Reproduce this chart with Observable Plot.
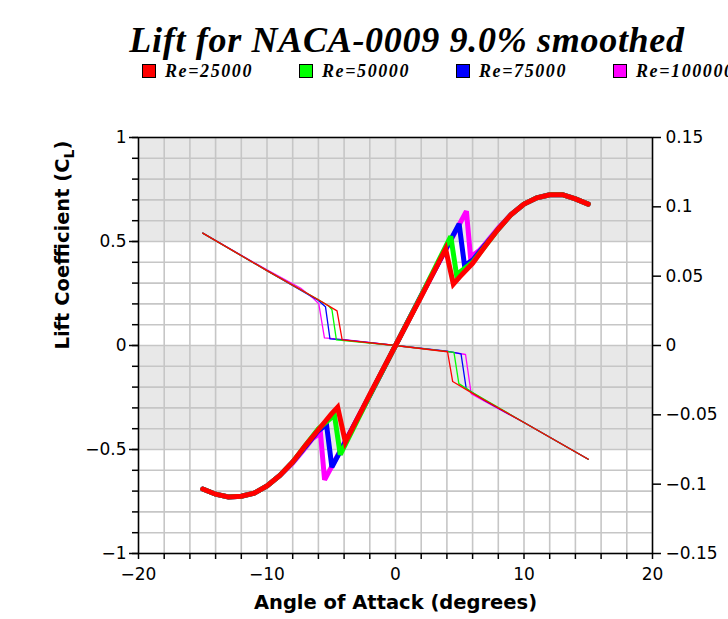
<!DOCTYPE html>
<html><head><meta charset="utf-8">
<script src="https://cdn.jsdelivr.net/npm/d3@7"></script>
<script src="https://cdn.jsdelivr.net/npm/@observablehq/plot@0.6"></script>
<style>
body{margin:0;background:#fff;}
#wrap{position:relative;width:728px;height:619px;overflow:hidden;background:#fff;}
#title{position:absolute;left:0;top:18px;width:814px;text-align:center;font:italic bold 36px "Liberation Serif",serif;letter-spacing:0.7px;white-space:nowrap;color:#000;line-height:44px;}
.leg{position:absolute;top:62px;white-space:nowrap;font:italic bold 18px "Liberation Serif",serif;letter-spacing:1.6px;line-height:18px;color:#000;}
.sw{display:inline-block;width:12px;height:12px;border:1px solid #000;margin-right:9px;vertical-align:-1px;}
#chart{position:absolute;left:0;top:80px;}
</style></head>
<body>
<div id="wrap">
  <div id="title">Lift for NACA-0009 9.0% smoothed</div>
  <div id="legend"></div>
  <div id="chart"></div>
</div>
<script>
// ---- data ----
const seriesNames = ["Re=25000", "Re=50000", "Re=75000", "Re=100000"];
const seriesColors = ["#ff0000", "#00ff00", "#0000ff", "#ff00ff"];

// Lift coefficient (left axis) : [alpha, CL]
const cl25000 = [[-15,-0.69],[-14,-0.715],[-13,-0.728],[-12,-0.725],[-11,-0.71],[-10,-0.675],[-9,-0.625],[-8,-0.56],[-7,-0.48],[-6,-0.405],[-5,-0.33],[-4.5,-0.297],[-3.9,-0.465],[-2,-0.235],[0,0],[2,0.235],[3.9,0.465],[4.5,0.295],[5,0.33],[6,0.395],[7,0.48],[8,0.56],[9,0.63],[10,0.68],[11,0.71],[12,0.725],[13,0.725],[14,0.705],[15,0.68]];
const cl50000 = [[-15,-0.69],[-14,-0.715],[-13,-0.728],[-12,-0.725],[-11,-0.71],[-10,-0.675],[-9,-0.625],[-8,-0.56],[-7,-0.48],[-6,-0.40],[-4.75,-0.335],[-4.3,-0.525],[-2,-0.24],[0,0],[2,0.24],[4.3,0.525],[4.75,0.34],[6,0.40],[7,0.48],[8,0.56],[9,0.63],[10,0.68],[11,0.71],[12,0.725],[13,0.725],[14,0.705],[15,0.68]];
const cl75000 = [[-15,-0.69],[-14,-0.715],[-13,-0.728],[-12,-0.725],[-11,-0.71],[-10,-0.675],[-9,-0.625],[-8,-0.56],[-7,-0.485],[-6,-0.41],[-5.37,-0.38],[-4.95,-0.585],[-2,-0.24],[0,0],[2,0.24],[4.95,0.585],[5.37,0.385],[6,0.41],[7,0.485],[8,0.56],[9,0.63],[10,0.68],[11,0.71],[12,0.725],[13,0.725],[14,0.705],[15,0.68]];
const cl100000 = [[-15,-0.69],[-14,-0.715],[-13,-0.728],[-12,-0.725],[-11,-0.71],[-10,-0.675],[-9,-0.625],[-8,-0.565],[-7,-0.49],[-6.5,-0.45],[-5.84,-0.42],[-5.52,-0.646],[-2,-0.24],[0,0],[2,0.24],[5.52,0.646],[5.84,0.425],[6.5,0.455],[7,0.49],[8,0.565],[9,0.63],[10,0.68],[11,0.71],[12,0.725],[13,0.725],[14,0.705],[15,0.68]];

// thin curves (right axis units) : [alpha, value]
const cm25000 = [[-15,0.081],[-10,0.054],[-6,0.033],[-4.55,0.025],[-4.15,0.004],[0,0],[4.05,-0.0045],[4.45,-0.026],[6,-0.0345],[10,-0.0555],[15,-0.082]];
const cm50000 = [[-15,0.081],[-10,0.054],[-6,0.033],[-5.2,0.0285],[-4.95,0.026],[-4.6,0.004],[0,0],[4.55,-0.005],[4.93,-0.0275],[6,-0.034],[10,-0.0555],[15,-0.082]];
const cm75000 = [[-15,0.081],[-10,0.054],[-6,0.0325],[-5.45,0.028],[-5.1,0.0048],[-4,0.004],[0,0],[4,-0.004],[5.1,-0.006],[5.5,-0.031],[7,-0.040],[10,-0.0555],[15,-0.082]];
const cm100000 = [[-15,0.081],[-10,0.0545],[-7.4,0.0415],[-6.4,0.034],[-5.97,0.030],[-5.53,0.0055],[-4,0.0043],[0,0],[4,-0.0043],[5.45,-0.0065],[5.89,-0.0348],[7,-0.0405],[10,-0.0555],[15,-0.082]];

// axes
const xTickValues = [-20,-18,-16,-14,-12,-10,-8,-6,-4,-2,0,2,4,6,8,10,12,14,16,18,20];
const xTickLabels = {"-20":"−20","-10":"−10","0":"0","10":"10","20":"20"};
const yMajorValues = [-1,-0.5,0,0.5,1];
const yMajorLabels = ["−1","−0.5","0","0.5","1"];
const yMinorValues = [-1,-0.9,-0.8,-0.7,-0.6,-0.5,-0.4,-0.3,-0.2,-0.1,0,0.1,0.2,0.3,0.4,0.5,0.6,0.7,0.8,0.9,1];
const rightTickValues = [-0.15,-0.1,-0.05,0,0.05,0.1,0.15];
const rightTickLabels = ["−0.15","−0.1","−0.05","0","0.05","0.1","0.15"];
const rightMax = 0.15;
const shadedBands = [[0.5,1],[-0.5,0]];
const xLabel = "Angle of Attack (degrees)";
const yLabel = "Lift Coefficient (CL)";

// ---- legend ----
const legend = document.getElementById("legend");
seriesNames.forEach((n,i) => {
  const el = document.createElement("div");
  el.className = "leg";
  el.style.left = (142 + i*157) + "px";
  el.innerHTML = `<span class="sw" style="background:${seriesColors[i]}"></span>${n}`;
  legend.appendChild(el);
});

// ---- chart ----
const liftSeries = [cl100000, cl75000, cl50000, cl25000];
const thinSeries = [cm100000, cm75000, cm50000, cm25000];
const order = [3,2,1,0];
const grid = {stroke:"#c6c6c6", strokeOpacity:1, strokeWidth:1.6};
const font = "DejaVu Sans";

const plot = Plot.plot({
  width: 728, height: 539,
  marginLeft: 138, marginRight: 76, marginTop: 57, marginBottom: 66,
  x: {domain: [-20,20]},
  y: {domain: [-1,1]},
  style: {fontFamily: font, fontSize: "17px", color: "#000", background: "transparent"},
  marks: [
    Plot.rect(shadedBands, {x1: () => -20, x2: () => 20, y1: d => d[0], y2: d => d[1], fill: "#e8e8e8"}),
    Plot.gridX(xTickValues, grid),
    Plot.gridY(yMinorValues, grid),
    ...thinSeries.map((s,k) => Plot.line(s, {x: d => d[0], y: d => d[1]/rightMax, stroke: seriesColors[order[k]], strokeWidth: 1.3})),
    ...liftSeries.map((s,k) => Plot.line(s, {x: d => d[0], y: d => d[1], stroke: seriesColors[order[k]], strokeWidth: 5, strokeLinejoin: "miter", strokeMiterlimit: 3})),
    Plot.frame({stroke: "#000", strokeWidth: 1.5}),
    Plot.axisX(xTickValues, {anchor: "bottom", tickSize: 6, tickPadding: 8, strokeWidth: 1.5, label: null, tickFormat: d => xTickLabels[String(d)] ?? "", fontSize: 17}),
    Plot.axisY(yMinorValues, {anchor: "left", tickSize: 6, strokeWidth: 1.5, label: null, tickFormat: () => ""}),
    Plot.axisY(yMajorValues, {anchor: "left", tickSize: 9, tickPadding: 3, strokeWidth: 1.5, label: null, tickFormat: (d,i) => yMajorLabels[i], fontSize: 17}),
    Plot.axisY(rightTickValues.map(v => v/rightMax), {anchor: "right", tickSize: 8, tickPadding: 5, strokeWidth: 1.5, label: null, tickFormat: (d,i) => rightTickLabels[i], fontSize: 17}),
    Plot.text([xLabel], {frameAnchor: "bottom", dy: 55, fontSize: 19.5, fontWeight: "bold", fontFamily: font}),
    Plot.text([yLabel], {frameAnchor: "left", dx: -76, dy: 4, rotate: -90, fontSize: 19.5, fontWeight: "bold", fontFamily: font})
  ]
});
document.getElementById("chart").appendChild(plot);

// subscript L in the y label
d3.select(plot).selectAll("text").each(function() {
  if (this.textContent === yLabel) {
    const t = d3.select(this);
    t.text("Lift Coefficient (C");
    t.append("tspan").attr("dy", 5).attr("font-size", 14).text("L");
    t.append("tspan").attr("dy", -5).text(")");
  }
});
</script>
</body></html>
